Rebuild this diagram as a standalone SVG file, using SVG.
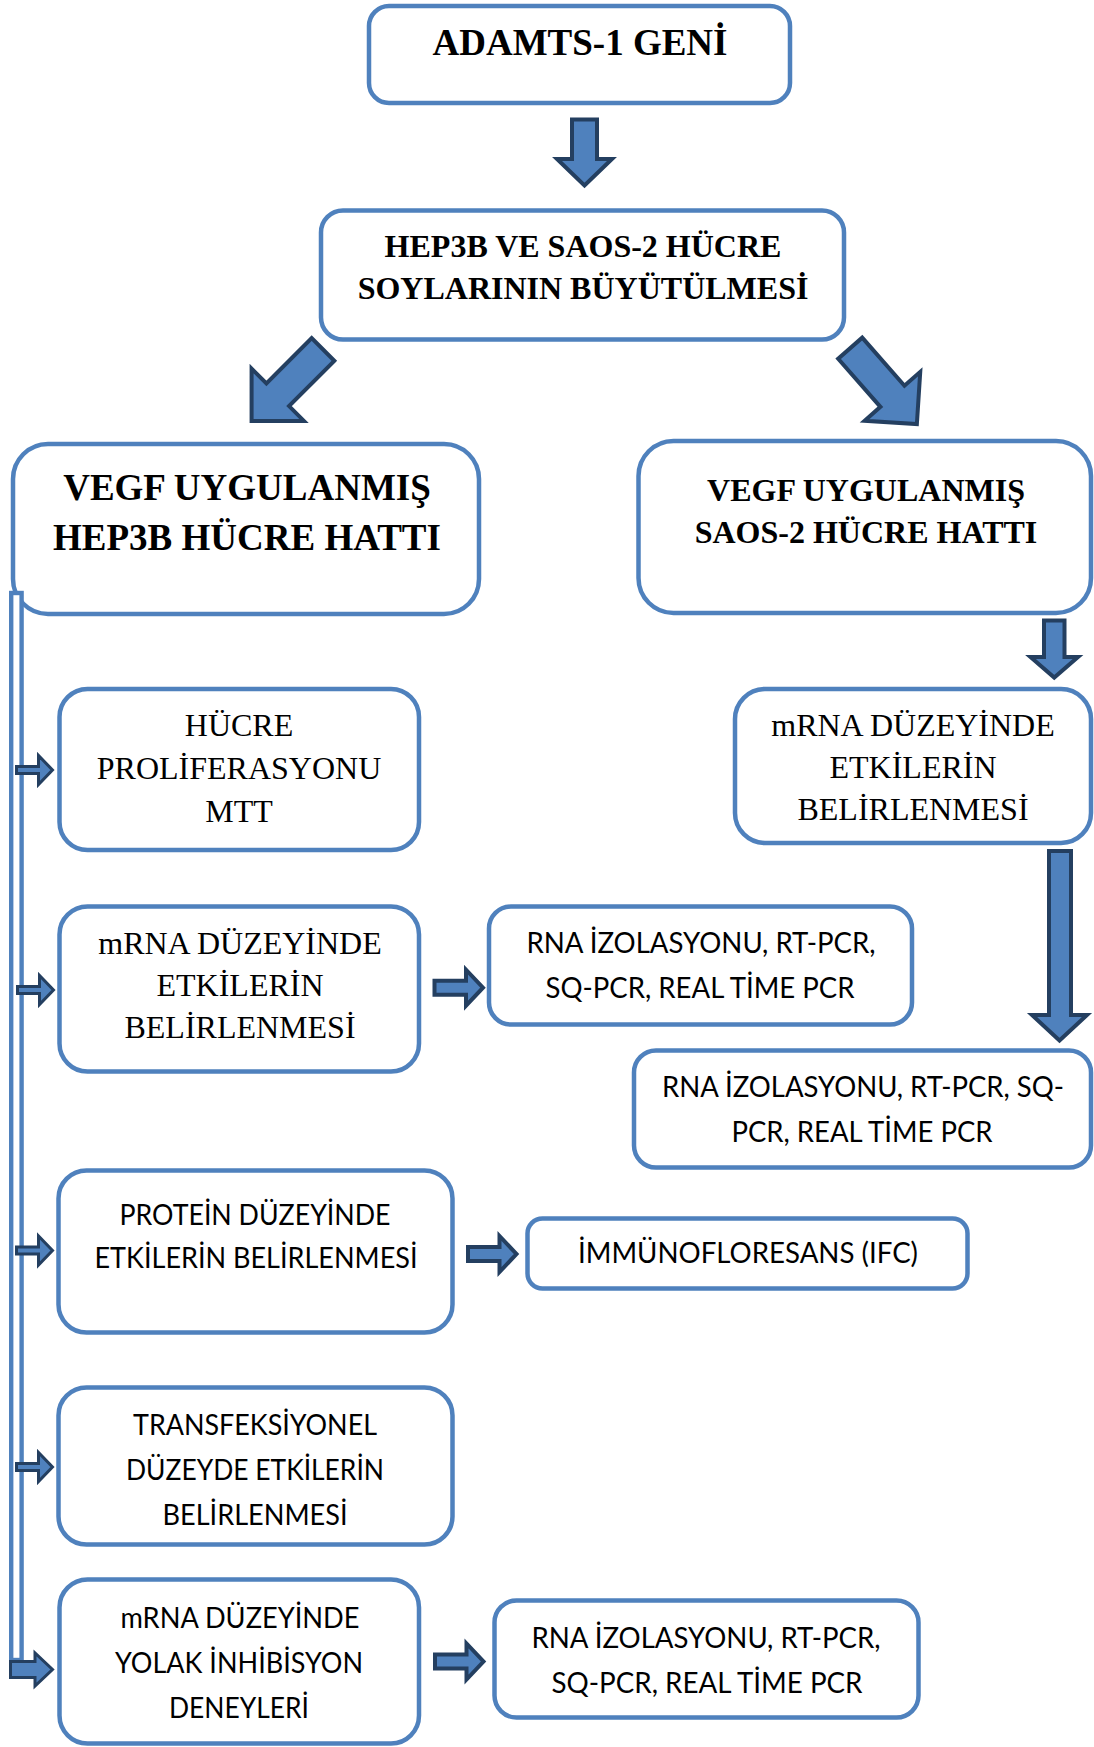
<svg xmlns="http://www.w3.org/2000/svg" width="1094" height="1747" viewBox="0 0 1094 1747">
<style>
.box{fill:#fff;stroke:#4F81BD;stroke-width:4.5}
.arr{fill:#4F81BD;stroke:#243F60;stroke-width:4;stroke-linejoin:miter}
.sarr{fill:#4F81BD;stroke:#243F60;stroke-width:3;stroke-linejoin:miter}
.bar{fill:#fff;stroke:#4F81BD;stroke-width:4.4}
.tb{font-family:"Liberation Serif","Times New Roman",serif;font-weight:bold;text-anchor:middle;fill:#000}
.tr{font-family:"Liberation Serif","Times New Roman",serif;font-size:32px;text-anchor:middle;fill:#000}
.ts{font-family:Lato,"Noto Sans",sans-serif;font-size:28px;text-anchor:middle;fill:#000}
</style>
<rect width="1094" height="1747" fill="#fff"/>

<g id="n-adamts">
<rect class="box" x="369" y="6" width="421" height="97" rx="20"/>
<text class="tb" x="580" y="55" font-size="37">ADAMTS-1 GENİ</text>
</g>
<g id="n-hucre-soy">
<rect class="box" x="321" y="210.5" width="523" height="129" rx="22"/>
<text class="tb" x="583" y="257" font-size="32">HEP3B VE SAOS-2 HÜCRE</text>
<text class="tb" x="583" y="299" font-size="32">SOYLARININ BÜYÜTÜLMESİ</text>
</g>
<g id="n-vegf-hep3b">
<rect class="box" x="13" y="444" width="466" height="170" rx="35"/>
<text class="tb" x="247" y="500" font-size="37">VEGF UYGULANMIŞ</text>
<text class="tb" x="247" y="550" font-size="37">HEP3B HÜCRE HATTI</text>
</g>
<g id="n-vegf-saos">
<rect class="box" x="638.5" y="441" width="452.5" height="172" rx="35"/>
<text class="tb" x="866" y="501" font-size="32">VEGF UYGULANMIŞ</text>
<text class="tb" x="866" y="543" font-size="32">SAOS-2 HÜCRE HATTI</text>
</g>
<g id="n-mrna-saos">
<rect class="box" x="735" y="689" width="356" height="154" rx="30"/>
<text class="tr" x="913" y="736">mRNA DÜZEYİNDE</text>
<text class="tr" x="913" y="778">ETKİLERİN</text>
<text class="tr" x="913" y="820">BELİRLENMESİ</text>
</g>
<g id="n-rna-saos">
<rect class="box" x="634" y="1050.5" width="457" height="117" rx="22"/>
<text class="ts" x="863" y="1097" textLength="402" lengthAdjust="spacingAndGlyphs">RNA İZOLASYONU, RT-PCR, SQ-</text>
<text class="ts" x="862" y="1142" textLength="261" lengthAdjust="spacingAndGlyphs">PCR, REAL TİME PCR</text>
</g>
<g id="n-proliferasyon">
<rect class="box" x="59.5" y="689" width="359.5" height="161" rx="28"/>
<text class="tr" x="239" y="736">HÜCRE</text>
<text class="tr" x="239" y="779">PROLİFERASYONU</text>
<text class="tr" x="239" y="822">MTT</text>
</g>
<g id="n-mrna-hep3b">
<rect class="box" x="59.5" y="906.5" width="359.5" height="165" rx="28"/>
<text class="tr" x="240" y="954">mRNA DÜZEYİNDE</text>
<text class="tr" x="240" y="996">ETKİLERİN</text>
<text class="tr" x="240" y="1038">BELİRLENMESİ</text>
</g>
<g id="n-rna-hep3b-1">
<rect class="box" x="489" y="906.5" width="423" height="118" rx="22"/>
<text class="ts" x="701" y="953" textLength="349" lengthAdjust="spacingAndGlyphs">RNA İZOLASYONU, RT-PCR,</text>
<text class="ts" x="700" y="998" textLength="309" lengthAdjust="spacingAndGlyphs">SQ-PCR, REAL TİME PCR</text>
</g>
<g id="n-protein">
<rect class="box" x="58.5" y="1170.5" width="394" height="162" rx="28"/>
<text class="ts" x="255" y="1225" textLength="271" lengthAdjust="spacingAndGlyphs">PROTEİN DÜZEYİNDE</text>
<text class="ts" x="256" y="1268" textLength="323" lengthAdjust="spacingAndGlyphs">ETKİLERİN BELİRLENMESİ</text>
</g>
<g id="n-ifc">
<rect class="box" x="527.5" y="1218.5" width="440" height="70" rx="15"/>
<text class="ts" x="748" y="1263" textLength="340" lengthAdjust="spacingAndGlyphs">İMMÜNOFLORESANS (IFC)</text>
</g>
<g id="n-transfeksiyonel">
<rect class="box" x="58.5" y="1387.5" width="394" height="157" rx="28"/>
<text class="ts" x="255" y="1435" textLength="244" lengthAdjust="spacingAndGlyphs">TRANSFEKSİYONEL</text>
<text class="ts" x="255" y="1480" textLength="258" lengthAdjust="spacingAndGlyphs">DÜZEYDE ETKİLERİN</text>
<text class="ts" x="255" y="1525" textLength="185" lengthAdjust="spacingAndGlyphs">BELİRLENMESİ</text>
</g>
<g id="n-yolak">
<rect class="box" x="59.5" y="1579.5" width="359.5" height="164" rx="28"/>
<text class="ts" x="240" y="1628" textLength="239" lengthAdjust="spacingAndGlyphs">mRNA DÜZEYİNDE</text>
<text class="ts" x="239" y="1673" textLength="248" lengthAdjust="spacingAndGlyphs">YOLAK İNHİBİSYON</text>
<text class="ts" x="239" y="1718" textLength="140" lengthAdjust="spacingAndGlyphs">DENEYLERİ</text>
</g>
<g id="n-rna-hep3b-2">
<rect class="box" x="494.5" y="1600.5" width="424" height="117" rx="22"/>
<text class="ts" x="706" y="1648" textLength="349" lengthAdjust="spacingAndGlyphs">RNA İZOLASYONU, RT-PCR,</text>
<text class="ts" x="707" y="1693" textLength="311" lengthAdjust="spacingAndGlyphs">SQ-PCR, REAL TİME PCR</text>
</g>

<g id="connectors">
<polygon class="arr" points="572,119.5 597,119.5 597,159 612,159 584.5,185.5 557,159 572,159"/>
<polygon class="arr" points="0,-16 64,-16 64,-37 101,0 64,37 64,16 0,16" transform="translate(323,349.5) rotate(135)"/>
<polygon class="arr" points="0,-16 64,-16 64,-37 101,0 64,37 64,16 0,16" transform="translate(850.2,348.2) rotate(48.7)"/>
<polygon class="arr" points="1044,620.5 1064.5,620.5 1064.5,657 1078,657 1054.25,677.5 1030.5,657 1044,657"/>
<polygon class="arr" points="1049,851 1071,851 1071,1015 1087,1015 1059.5,1040.5 1032,1015 1049,1015"/>
<polygon class="arr" points="0,-7 31.5,-7 31.5,-18 48.5,0 31.5,18 31.5,7 0,7" transform="translate(434.5,987.7)"/>
<polygon class="arr" points="0,-7 31.5,-7 31.5,-18 48.5,0 31.5,18 31.5,7 0,7" transform="translate(468,1254)"/>
<polygon class="arr" points="0,-7 31.5,-7 31.5,-18 48.5,0 31.5,18 31.5,7 0,7" transform="translate(435,1661.5)"/>
<rect class="bar" x="11.2" y="593" width="10.4" height="1067"/>
<polygon class="sarr" points="0,-3.5 22,-3.5 22,-14.5 36,0 22,14.5 22,3.5 0,3.5" transform="translate(16.5,770)"/>
<polygon class="sarr" points="0,-3.5 22,-3.5 22,-14.5 36,0 22,14.5 22,3.5 0,3.5" transform="translate(17.5,990)"/>
<polygon class="sarr" points="0,-3.5 22,-3.5 22,-14.5 36,0 22,14.5 22,3.5 0,3.5" transform="translate(16.5,1250.5)"/>
<polygon class="sarr" points="0,-3.5 22,-3.5 22,-14.5 36,0 22,14.5 22,3.5 0,3.5" transform="translate(16.5,1467)"/>
<polygon class="sarr" points="0,-8 24.5,-8 24.5,-16.5 42,0 24.5,16.5 24.5,8 0,8" transform="translate(10.5,1669.5)"/>
</g>
</svg>
